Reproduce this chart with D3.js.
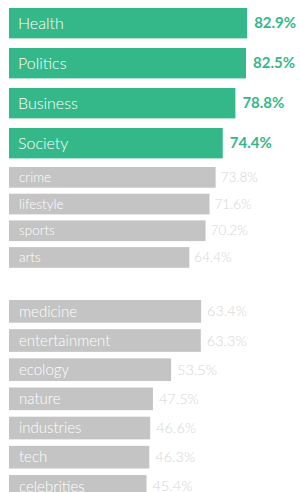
<!DOCTYPE html>
<html><head><meta charset="utf-8">
<script src="https://cdn.jsdelivr.net/npm/d3@7"></script>
<style>
html,body{margin:0;padding:0;background:#fff;}
svg{display:block;font-family:Lato, "Noto Sans", sans-serif;}
</style></head>
<body><svg id="c" width="300" height="492"></svg>
<script>
const topCats = ["Health","Politics","Business","Society"];
const topVals = [82.9, 82.5, 78.8, 74.4];
const midCats = ["crime","lifestyle","sports","arts"];
const midVals = [73.8, 71.6, 70.2, 64.4];
const lowCats = ["medicine","entertainment","ecology","nature","industries","tech","celebrities"];
const lowVals = [63.4, 63.3, 53.5, 47.5, 46.6, 46.3, 45.4];

const svg = d3.select("#c");
const GREEN = "#35b889", GRAY = "#c4c4c4", VALGRAY = "#d6d6d6";

function group(cats, vals, o) {
  const y = d3.scaleBand().domain(cats).range(o.yr).paddingInner(o.pad).paddingOuter(0);
  const x = d3.scaleLinear().domain([0, 100]).range([o.x0, o.x0 + o.k * 100]);
  const data = cats.map((c, i) => ({c, v: vals[i]}));
  const g = svg.append("g");
  g.selectAll("rect").data(data).join("rect")
    .attr("x", x(0)).attr("y", d => y(d.c))
    .attr("width", d => x(d.v) - x(0)).attr("height", y.bandwidth())
    .attr("fill", o.fill);
  g.selectAll("text.lab").data(data).join("text").attr("class","lab")
    .attr("x", x(0) + o.lpad).attr("y", d => y(d.c) + y.bandwidth()/2)
    .attr("dy", "0.35em").attr("fill", "#fff")
    .attr("font-size", o.fs).attr("font-weight", o.lw).text(d => d.c);
  g.selectAll("text.val").data(data).join("text").attr("class","val")
    .attr("x", d => x(d.v) + o.vpad).attr("y", d => y(d.c) + y.bandwidth()/2)
    .attr("dy", "0.35em").attr("fill", o.vcol)
    .attr("font-size", o.vfs).attr("font-weight", o.vw)
    .text(d => d.v.toFixed(1) + "%");
}

group(topCats, topVals, {yr:[8,158.4], pad:0.24, x0:9, k:2.873, fill:GREEN, lpad:9, fs:16, lw:300, vpad:7, vcol:GREEN, vfs:15, vw:700});
group(midCats, midVals, {yr:[167,267.8], pad:0.225, x0:9, k:2.8, fill:GRAY, lpad:10, fs:13.5, lw:300, vpad:5, vcol:VALGRAY, vfs:13.5, vw:300});
group(lowCats, lowVals, {yr:[300,497.7], pad:0.222, x0:9, k:3.03, fill:GRAY, lpad:10, fs:15, lw:300, vpad:6, vcol:VALGRAY, vfs:14.5, vw:300});
</script></body></html>
